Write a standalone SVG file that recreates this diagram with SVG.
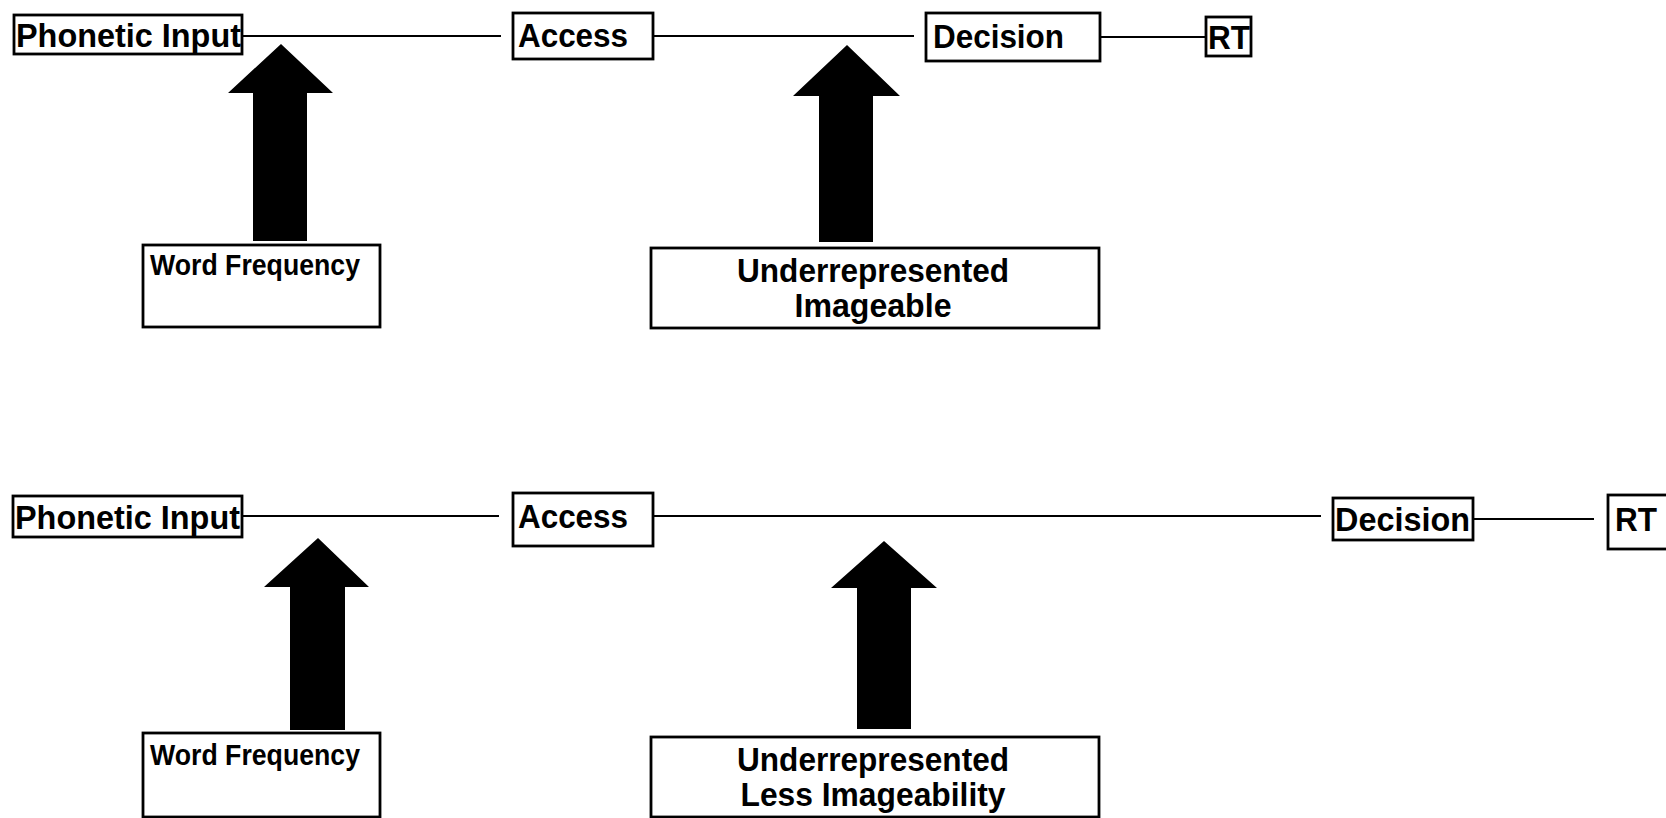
<svg xmlns="http://www.w3.org/2000/svg" width="1666" height="818" viewBox="0 0 1666 818">
<style>
.box{fill:#fff;stroke:#000;stroke-width:2.8}
.t{font-family:"Liberation Sans",Arial,sans-serif;font-weight:bold;font-size:34px;fill:#000}
.s{font-size:29px}
.c{text-anchor:middle}
.ln{stroke:#000;stroke-width:2;fill:none}
.arr{fill:#000}
</style>
<rect width="1666" height="818" fill="#fff"/>
<g id="connectors">
<line class="ln" x1="242" y1="36" x2="501" y2="36"/>
<line class="ln" x1="654" y1="36" x2="914" y2="36"/>
<line class="ln" x1="1101" y1="37" x2="1206" y2="37"/>
<line class="ln" x1="242" y1="516" x2="499" y2="516"/>
<line class="ln" x1="654" y1="516" x2="1321" y2="516"/>
<line class="ln" x1="1473" y1="519" x2="1594" y2="519"/>
<polygon class="arr" points="281,44 333,93 307,93 307,241 253,241 253,93 228,93"/>
<polygon class="arr" points="847,45 900,96 873,96 873,242 819,242 819,96 793,96"/>
<polygon class="arr" points="318,538 369,587 345,587 345,730 290,730 290,587 264,587"/>
<polygon class="arr" points="884,541 937,588 911,588 911,729 857,729 857,588 831,588"/>
</g>
<g id="top-phonetic"><rect class="box" x="14" y="15" width="228" height="39"/><text class="t" x="16" y="47" textLength="225" lengthAdjust="spacingAndGlyphs">Phonetic Input</text></g>
<g id="top-access"><rect class="box" x="513" y="13" width="140" height="46"/><text class="t" x="518" y="47" textLength="110" lengthAdjust="spacingAndGlyphs">Access</text></g>
<g id="top-decision"><rect class="box" x="926" y="13" width="174" height="48"/><text class="t" x="933" y="48" textLength="131" lengthAdjust="spacingAndGlyphs">Decision</text></g>
<g id="top-rt"><rect class="box" x="1206" y="17" width="45" height="39"/><text class="t" x="1208" y="49" textLength="42" lengthAdjust="spacingAndGlyphs">RT</text></g>
<g id="top-wordfreq"><rect class="box" x="143" y="245" width="237" height="82"/><text class="t s" x="150" y="275" textLength="210" lengthAdjust="spacingAndGlyphs">Word Frequency</text></g>
<g id="top-imageable"><rect class="box" x="651" y="248" width="448" height="80"/><text class="t c" x="873" y="282" textLength="272" lengthAdjust="spacingAndGlyphs">Underrepresented</text><text class="t c" x="873" y="317" textLength="157" lengthAdjust="spacingAndGlyphs">Imageable</text></g>
<g id="bot-phonetic"><rect class="box" x="13" y="496" width="229" height="41"/><text class="t" x="15" y="529" textLength="225" lengthAdjust="spacingAndGlyphs">Phonetic Input</text></g>
<g id="bot-access"><rect class="box" x="513" y="493" width="140" height="53"/><text class="t" x="518" y="528" textLength="110" lengthAdjust="spacingAndGlyphs">Access</text></g>
<g id="bot-decision"><rect class="box" x="1333" y="498" width="140" height="42"/><text class="t" x="1335" y="531" textLength="135" lengthAdjust="spacingAndGlyphs">Decision</text></g>
<g id="bot-rt"><rect class="box" x="1608" y="495" width="70" height="54"/><text class="t" x="1615" y="531" textLength="42" lengthAdjust="spacingAndGlyphs">RT</text></g>
<g id="bot-wordfreq"><rect class="box" x="143" y="733" width="237" height="84"/><text class="t s" x="150" y="765" textLength="210" lengthAdjust="spacingAndGlyphs">Word Frequency</text></g>
<g id="bot-lessimage"><rect class="box" x="651" y="737" width="448" height="80"/><text class="t c" x="873" y="771" textLength="272" lengthAdjust="spacingAndGlyphs">Underrepresented</text><text class="t c" x="873" y="806" textLength="265" lengthAdjust="spacingAndGlyphs">Less Imageability</text></g>
</svg>
